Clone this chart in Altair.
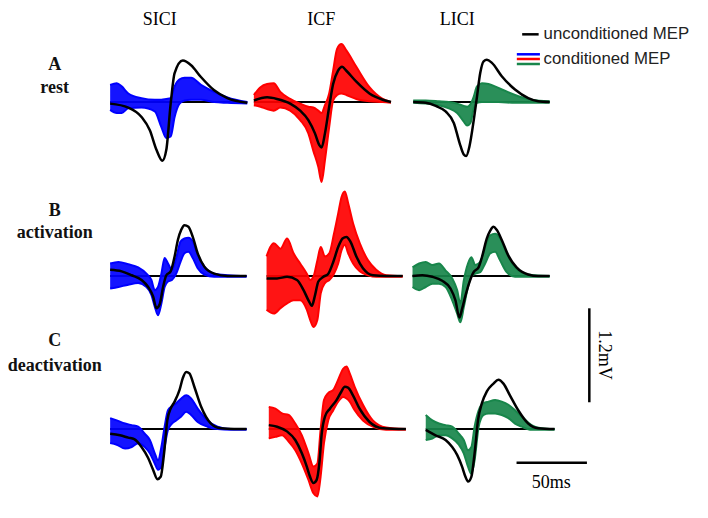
import altair as alt
import pandas as pd

# ---------------- data: time (ms from panel start), amplitude (mV) ----------------
# Row A: rest
sici_rest_unc_t = [0, 12.9, 22.3, 28.2, 32.9, 37.1, 39.9, 43.0, 45.8, 51.6, 57.5, 64.5, 73.9, 83.3, 97.4]
sici_rest_unc_v = [-0.02, -0.07, -0.19, -0.36, -0.61, -0.75, -0.61, -0.02, 0.37, 0.53, 0.47, 0.32, 0.15, 0.05, -0.01]
sici_rest_band_t = [0, 4.7, 8.2, 12.9, 22.3, 31.7, 36.4, 39.9, 43.0, 45.8, 49.3, 52.8, 57.5, 64.5, 73.9, 83.3, 97.4]
sici_rest_hi = [0.22, 0.24, 0.20, 0.11, 0.05, 0.03, 0.03, 0.04, 0.05, 0.20, 0.29, 0.31, 0.31, 0.22, 0.13, 0.06, 0.00]
sici_rest_lo = [-0.10, -0.14, -0.14, -0.08, -0.07, -0.12, -0.32, -0.46, -0.44, -0.19, -0.02, 0.02, 0.03, 0.03, 0.00, -0.01, -0.02]

icf_rest_unc_t = [0, 9.4, 16.4, 25.8, 32.9, 38.7, 43.4, 46.5, 48.1, 50.5, 53.5, 56.3, 59.8, 62.7, 65.7, 72.8, 82.1, 91.5, 97.4]
icf_rest_unc_v = [0.02, 0.06, 0.04, -0.02, -0.11, -0.23, -0.40, -0.55, -0.58, -0.40, -0.06, 0.23, 0.40, 0.45, 0.40, 0.26, 0.11, 0.03, 0]
icf_rest_band_t = [0, 4.7, 9.4, 14.1, 18.8, 25.8, 32.9, 38.7, 42.2, 45.8, 48.1, 50.5, 53.5, 56.3, 59.1, 62.2, 65.7, 72.8, 82.1, 91.5, 97.4]
icf_rest_hi = [0.09, 0.19, 0.23, 0.24, 0.13, 0.04, -0.02, -0.06, -0.07, -0.11, -0.14, -0.04, 0.11, 0.40, 0.68, 0.74, 0.66, 0.45, 0.19, 0.04, 0]
icf_rest_lo = [-0.04, -0.06, -0.09, -0.11, -0.07, -0.11, -0.23, -0.40, -0.62, -0.83, -1.02, -0.74, -0.32, 0.02, 0.09, 0.11, 0.09, 0.04, 0.01, 0, -0.01]

lici_rest_unc_t = [0, 8.9, 16.0, 23.0, 28.9, 32.9, 35.9, 37.6, 39.9, 43.0, 45.3, 47.6, 50.0, 52.3, 55.9, 62.9, 72.3, 81.7, 88.7, 96.9]
lici_rest_unc_v = [0, -0.01, -0.05, -0.12, -0.27, -0.52, -0.67, -0.69, -0.57, -0.23, 0.07, 0.37, 0.52, 0.54, 0.50, 0.33, 0.16, 0.05, 0.01, 0]
lici_rest_band_t = [0, 8.9, 18.3, 25.3, 31.2, 35.9, 38.3, 40.6, 43.0, 45.3, 48.8, 53.5, 60.6, 72.3, 84.0, 96.9]
lici_rest_hi = [0.02, 0.02, 0.01, 0, -0.02, -0.05, -0.06, -0.03, 0.07, 0.20, 0.24, 0.23, 0.18, 0.09, 0.03, 0.01]
lici_rest_lo = [-0.01, -0.02, -0.04, -0.08, -0.14, -0.25, -0.30, -0.27, -0.08, -0.01, 0, 0, 0, -0.01, -0.01, -0.01]

# Row B: activation
sici_act_unc_t = [0, 8.2, 15.3, 22.3, 27.0, 30.5, 32.9, 35.2, 37.6, 39.9, 43.0, 45.8, 48.1, 50.5, 52.8, 55.6, 58.7, 62.2, 66.9, 73.9, 83.3, 96.9]
sici_act_unc_v = [0.08, 0.06, 0.01, -0.05, -0.14, -0.26, -0.41, -0.36, -0.14, 0.01, 0.06, 0.25, 0.46, 0.59, 0.65, 0.63, 0.50, 0.29, 0.12, 0.03, 0, 0]
sici_act_band_t = [0, 5.9, 12.9, 19.9, 25.8, 29.3, 31.7, 34.0, 36.4, 38.7, 41.1, 43.9, 46.9, 50.0, 52.8, 55.6, 58.7, 62.2, 66.9, 73.9, 83.3, 96.9]
sici_act_hi = [0.16, 0.18, 0.15, 0.11, 0.03, -0.05, -0.18, -0.14, 0.03, 0.23, 0.16, 0.08, 0.23, 0.44, 0.48, 0.49, 0.44, 0.27, 0.12, 0.03, 0.01, 0]
sici_act_lo = [-0.16, -0.14, -0.11, -0.09, -0.14, -0.24, -0.39, -0.50, -0.35, -0.14, -0.07, -0.05, 0.03, 0.18, 0.29, 0.31, 0.23, 0.10, 0.02, -0.01, -0.01, -0.01]

icf_act_unc_t = [0, 7.5, 14.6, 21.6, 26.3, 29.8, 32.2, 34.5, 36.8, 40.4, 43.9, 47.4, 50.9, 54.0, 56.8, 59.6, 63.8, 68.5, 75.6, 85.0, 96.7]
icf_act_unc_v = [-0.03, -0.03, -0.01, -0.05, -0.18, -0.31, -0.38, -0.24, -0.07, -0.01, 0.03, 0.18, 0.37, 0.48, 0.50, 0.44, 0.25, 0.10, 0.01, 0, 0]
icf_act_band_t = [0, 5.2, 9.9, 14.6, 19.2, 23.9, 28.6, 31.0, 33.3, 36.1, 38.5, 41.5, 44.6, 47.9, 50.9, 53.3, 55.6, 58.0, 61.5, 66.2, 72.1, 77.9, 85.0, 96.7]
icf_act_hi = [0.25, 0.42, 0.35, 0.48, 0.29, 0.16, 0.03, -0.05, -0.01, 0.20, 0.37, 0.25, 0.29, 0.54, 0.80, 1.01, 1.08, 0.93, 0.67, 0.42, 0.20, 0.08, 0.01, 0]
icf_act_lo = [-0.43, -0.48, -0.41, -0.35, -0.31, -0.31, -0.43, -0.56, -0.65, -0.56, -0.22, -0.09, -0.05, 0.03, 0.16, 0.33, 0.40, 0.29, 0.16, 0.06, 0.01, -0.01, -0.01, -0.01]

lici_act_unc_t = [0, 7.0, 14.1, 21.1, 27.0, 30.5, 33.3, 35.2, 37.6, 40.4, 43.4, 46.9, 49.3, 52.8, 55.2, 57.5, 59.8, 63.4, 68.1, 73.9, 82.1, 89.2, 97.4]
lici_act_unc_v = [0, 0.01, -0.01, -0.06, -0.16, -0.31, -0.53, -0.42, -0.25, -0.08, 0.05, 0.11, 0.24, 0.48, 0.58, 0.63, 0.59, 0.46, 0.26, 0.11, 0.02, 0, 0]
lici_act_band_t = [0, 4.7, 9.4, 14.1, 18.8, 23.5, 28.2, 31.7, 34.0, 36.4, 39.4, 41.8, 44.6, 48.1, 51.6, 55.2, 58.7, 62.2, 66.9, 72.8, 82.1, 97.4]
lici_act_hi = [0.11, 0.16, 0.18, 0.14, 0.16, 0.07, -0.03, -0.18, -0.35, -0.06, 0.16, 0.24, 0.14, 0.18, 0.37, 0.52, 0.54, 0.48, 0.29, 0.11, 0.02, 0]
lici_act_lo = [-0.14, -0.18, -0.14, -0.10, -0.10, -0.14, -0.31, -0.48, -0.59, -0.40, -0.14, -0.01, 0.03, 0.05, 0.16, 0.29, 0.31, 0.20, 0.05, -0.01, -0.01, -0.01]

# Row C: deactivation
sici_deact_unc_t = [0, 7.0, 12.9, 17.1, 22.3, 27.0, 30.5, 33.6, 35.9, 38.3, 40.6, 43.0, 45.8, 49.3, 51.6, 54.0, 56.3, 59.8, 64.5, 71.6, 78.6, 88.0, 96.9]
sici_deact_unc_v = [-0.06, -0.08, -0.11, -0.13, -0.23, -0.37, -0.52, -0.64, -0.61, -0.31, 0.11, 0.26, 0.35, 0.50, 0.65, 0.73, 0.71, 0.54, 0.29, 0.07, 0.01, 0, 0]
sici_deact_band_t = [0, 4.7, 10.6, 15.3, 19.9, 24.6, 28.2, 31.7, 34.0, 36.4, 38.7, 41.1, 43.9, 46.9, 50.5, 54.0, 57.5, 62.2, 69.2, 76.3, 85.7, 96.9]
sici_deact_hi = [0.14, 0.11, 0.07, 0.05, 0.03, -0.06, -0.14, -0.31, -0.40, -0.23, 0.03, 0.24, 0.29, 0.33, 0.39, 0.43, 0.39, 0.26, 0.11, 0.03, 0, 0]
sici_deact_lo = [-0.18, -0.20, -0.25, -0.23, -0.18, -0.23, -0.31, -0.44, -0.52, -0.48, -0.23, -0.01, 0.07, 0.11, 0.16, 0.22, 0.18, 0.09, 0.03, 0, -0.01, -0.01]

icf_deact_unc_t = [0, 5.9, 12.9, 18.8, 23.5, 27.0, 29.3, 31.7, 34.0, 35.9, 37.6, 39.9, 43.4, 48.1, 51.6, 54.0, 56.3, 59.8, 64.5, 71.6, 81.0, 97.4]
icf_deact_unc_v = [0.05, 0.03, -0.03, -0.14, -0.31, -0.48, -0.61, -0.69, -0.65, -0.44, -0.06, 0.16, 0.26, 0.37, 0.48, 0.54, 0.53, 0.43, 0.26, 0.09, 0.01, 0]
icf_deact_band_t = [0, 4.7, 9.4, 14.1, 18.8, 23.5, 28.2, 31.7, 34.5, 36.8, 39.2, 42.2, 45.8, 49.3, 52.8, 55.2, 57.5, 61.0, 66.9, 73.9, 83.3, 97.4]
icf_deact_hi = [0.28, 0.26, 0.20, 0.18, 0.07, -0.08, -0.31, -0.48, -0.44, -0.01, 0.37, 0.46, 0.50, 0.63, 0.77, 0.80, 0.71, 0.54, 0.31, 0.11, 0.02, 0]
icf_deact_lo = [-0.12, -0.10, -0.08, -0.16, -0.27, -0.44, -0.65, -0.82, -0.86, -0.61, -0.18, 0.11, 0.24, 0.35, 0.41, 0.39, 0.35, 0.24, 0.11, 0.03, -0.01, -0.01]

lici_deact_unc_t = [0, 7.0, 14.1, 18.8, 22.3, 25.8, 28.2, 30.0, 32.4, 34.7, 37.1, 39.9, 43.4, 48.1, 51.6, 55.2, 59.8, 65.7, 72.8, 79.8, 91.5]
lici_deact_unc_v = [-0.01, -0.08, -0.14, -0.23, -0.33, -0.48, -0.61, -0.67, -0.61, -0.31, 0.11, 0.33, 0.48, 0.58, 0.63, 0.58, 0.43, 0.24, 0.07, 0.01, 0]
lici_deact_band_t = [0, 4.7, 9.4, 14.1, 18.8, 23.5, 27.0, 30.0, 32.4, 34.7, 37.6, 41.1, 44.6, 49.3, 54.0, 58.7, 63.4, 68.1, 75.1, 82.1, 91.5]
lici_deact_hi = [0.18, 0.11, 0.07, 0.05, 0.03, -0.06, -0.14, -0.27, -0.23, 0.03, 0.24, 0.33, 0.35, 0.37, 0.35, 0.31, 0.24, 0.16, 0.05, 0.01, 0]
lici_deact_lo = [-0.14, -0.12, -0.08, -0.08, -0.12, -0.20, -0.31, -0.48, -0.57, -0.40, 0.03, 0.18, 0.20, 0.20, 0.18, 0.14, 0.07, 0.03, -0.01, -0.01, -0.01]

protocols = ["SICI", "ICF", "LICI"]
conditions = ["rest", "act", "deact"]
row_letters = ["A", "B", "C"]
row_names = ["rest", "activation", "deactivation"]
scale_ms = 50
scale_mv = 1.2

# ---------------- layout (canvas in ms / mV) ----------------
W, H = 692, 502
PX_PER_MS, PX_PER_MV = 1.42, 78.3
X_MAX, Y_MAX = W / PX_PER_MS, H / PX_PER_MV
X_OFF = {"SICI-rest": 68.3, "ICF-rest": 170.4, "LICI-rest": 283.6,
         "SICI-act": 68.3, "ICF-act": 179.4, "LICI-act": 283.1,
         "SICI-deact": 68.3, "ICF-deact": 181.0, "LICI-deact": 292.5}
Y_OFF = {"rest": 5.21, "act": 2.988, "deact": 1.034}
COLORS = ["#0000FF", "#FF0000", "#18864B"]

panels = [
    ("SICI", "rest", sici_rest_unc_t, sici_rest_unc_v, sici_rest_band_t, sici_rest_lo, sici_rest_hi),
    ("ICF", "rest", icf_rest_unc_t, icf_rest_unc_v, icf_rest_band_t, icf_rest_lo, icf_rest_hi),
    ("LICI", "rest", lici_rest_unc_t, lici_rest_unc_v, lici_rest_band_t, lici_rest_lo, lici_rest_hi),
    ("SICI", "act", sici_act_unc_t, sici_act_unc_v, sici_act_band_t, sici_act_lo, sici_act_hi),
    ("ICF", "act", icf_act_unc_t, icf_act_unc_v, icf_act_band_t, icf_act_lo, icf_act_hi),
    ("LICI", "act", lici_act_unc_t, lici_act_unc_v, lici_act_band_t, lici_act_lo, lici_act_hi),
    ("SICI", "deact", sici_deact_unc_t, sici_deact_unc_v, sici_deact_band_t, sici_deact_lo, sici_deact_hi),
    ("ICF", "deact", icf_deact_unc_t, icf_deact_unc_v, icf_deact_band_t, icf_deact_lo, icf_deact_hi),
    ("LICI", "deact", lici_deact_unc_t, lici_deact_unc_v, lici_deact_band_t, lici_deact_lo, lici_deact_hi),
]

unc_rows, band_rows, edge_rows, base_rows = [], [], [], []
for prot, cond, ut, uv, bt, lo, hi in panels:
    key = f"{prot}-{cond}"
    xo, yo = X_OFF[key], Y_OFF[cond]
    for t, v in zip(ut, uv):
        unc_rows.append({"panel": key, "x": t + xo, "y": v + yo})
    for t, l, h in zip(bt, lo, hi):
        band_rows.append({"panel": key, "prot": prot, "x": t + xo, "y": l + yo, "y2": h + yo})
        edge_rows.append({"key": key + "-lo", "prot": prot, "x": t + xo, "y": l + yo})
        edge_rows.append({"key": key + "-hi", "prot": prot, "x": t + xo, "y": h + yo})
    base_rows.append({"x": xo, "x2": xo + max(ut), "y": yo})

unc_df = pd.DataFrame(unc_rows)
band_df = pd.DataFrame(band_rows)
edge_df = pd.DataFrame(edge_rows)
base_df = pd.DataFrame(base_rows)

xs = alt.Scale(domain=[0, X_MAX], nice=False, zero=False)
ys = alt.Scale(domain=[0, Y_MAX], nice=False, zero=False)
X = lambda f="x": alt.X(f"{f}:Q", scale=xs, axis=None)
Y = lambda f="y": alt.Y(f"{f}:Q", scale=ys, axis=None)
col = alt.Color("prot:N", scale=alt.Scale(domain=protocols, range=COLORS), legend=None)

baseline = alt.Chart(base_df).mark_rule(color="black", strokeWidth=2).encode(
    x=X(), x2="x2:Q", y=Y())

bands = alt.Chart(band_df).mark_area(interpolate="monotone", opacity=0.92).encode(
    x=X(), y=Y(), y2="y2:Q", color=col, detail="panel:N")

edges = alt.Chart(edge_df).mark_line(interpolate="monotone", strokeWidth=2).encode(
    x=X(), y=Y(), color=col, detail="key:N")

unc = alt.Chart(unc_df).mark_line(interpolate="monotone", color="black", strokeWidth=2.5).encode(
    x=X(), y=Y(), detail="panel:N")

# column titles
col_df = pd.DataFrame({"x": [103.5, 218.3, 314.8], "y": [6.200] * 3, "text": protocols})
col_titles = alt.Chart(col_df).mark_text(font="Liberation Serif", fontSize=18, align="center",
                                         baseline="alphabetic", color="black").encode(
    x=X(), y=Y(), text="text:N")

# row labels
row_df = pd.DataFrame({
    "x": [28.9] * 6,
    "y": [5.615, 5.325, 3.755, 3.475, 2.095, 1.770],
    "text": [row_letters[0], row_names[0], row_letters[1], row_names[1], row_letters[2], row_names[2]],
})
row_labels = alt.Chart(row_df).mark_text(font="Liberation Serif", fontSize=18, fontWeight="bold",
                                         align="center", baseline="alphabetic", color="#111111").encode(
    x=X(), y=Y(), text="text:N")

# legend
leg_black = alt.Chart(pd.DataFrame({"x": [361.0], "x2": [372.7], "y": [6.075]})).mark_rule(
    color="black", strokeWidth=2.5).encode(x=X(), x2="x2:Q", y=Y())
leg_col_df = pd.DataFrame({"x": [357.2] * 3, "x2": [373.6] * 3, "y": [5.820, 5.760, 5.696], "prot": protocols})
leg_cols = alt.Chart(leg_col_df).mark_rule(strokeWidth=2.5).encode(x=X(), x2="x2:Q", y=Y(), color=col)
leg_txt_df = pd.DataFrame({"x": [376.2, 376.2], "y": [6.079, 5.757],
                           "text": ["unconditioned MEP", "conditioned MEP"]})
leg_txt = alt.Chart(leg_txt_df).mark_text(font="Liberation Sans", fontSize=16.8, align="left",
                                          baseline="middle", color="#222222").encode(
    x=X(), y=Y(), text="text:N")

# scale bars
hbar = alt.Chart(pd.DataFrame({"x": [357.0], "x2": [357.0 + scale_ms], "y": [0.604]})).mark_rule(
    color="black", strokeWidth=2.5).encode(x=X(), x2="x2:Q", y=Y())
vbar = alt.Chart(pd.DataFrame({"x": [408.7], "y": [2.576 - scale_mv], "y2": [2.576]})).mark_rule(
    color="black", strokeWidth=2.5).encode(x=X(), y=Y(), y2="y2:Q")
htxt = alt.Chart(pd.DataFrame({"x": [381.7], "y": [0.345], "text": [f"{scale_ms}ms"]})).mark_text(
    font="Liberation Serif", fontSize=18, align="center", baseline="middle", color="black").encode(
    x=X(), y=Y(), text="text:N")
vtxt = alt.Chart(pd.DataFrame({"x": [419.0], "y": [1.979], "text": [f"{scale_mv}mV"]})).mark_text(
    font="Liberation Serif", fontSize=18, align="center", baseline="middle", angle=90, color="black").encode(
    x=X(), y=Y(), text="text:N")

chart = alt.layer(
    baseline, bands, edges, unc, col_titles, row_labels,
    leg_black, leg_cols, leg_txt, hbar, vbar, htxt, vtxt
).properties(
    width=W, height=H, padding=0,
    autosize=alt.AutoSizeParams(type="fit", contains="padding"),
    background="white",
).configure_view(stroke=None)

chart.save("out.html", embed_options={"renderer": "svg", "actions": False})
